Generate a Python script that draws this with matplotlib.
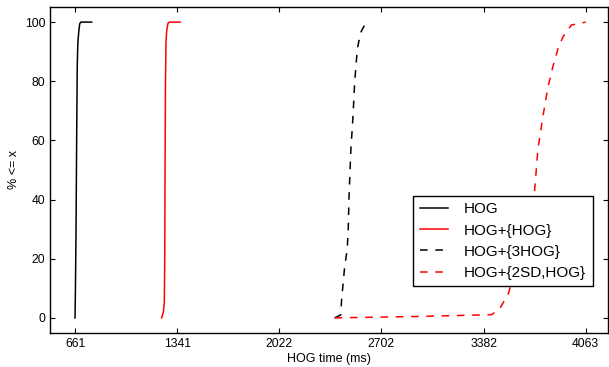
"""Cumulative distribution of HOG timing for four feature configurations."""

import matplotlib
matplotlib.use("Agg")
import matplotlib.pyplot as plt
import numpy as np

plt.rcParams['font.family'] = ['Liberation Sans', 'DejaVu Sans']

# CDF samples (time in ms, percent <= x)
hog_x = [661.3, 664, 668, 672, 676, 680, 686, 692, 699, 772]
hog_y = [0, 10, 30, 60, 85, 93, 96.6, 99.3, 100, 100]

hog_hog_x = [1238, 1250, 1256, 1259, 1261, 1264, 1267, 1272, 1280, 1290, 1362]
hog_hog_y = [0, 2, 5, 20, 50, 80, 93, 97, 99.5, 100, 100]

hog_3hog_x = [2391, 2431, 2437, 2457, 2474, 2481, 2486, 2499, 2513, 2524,
              2542, 2564, 2584, 2608]
hog_3hog_y = [0, 1, 6, 17, 23, 29, 40, 57, 68, 79.5, 91, 96.4, 98.4, 100]

hog_2sd_x = [2391, 2957, 3438, 3494, 3550, 3584, 3628, 3723, 3745, 3778,
             3812, 3845, 3879, 3912, 3968, 4063.4]
hog_2sd_y = [0, 0.5, 1.1, 3.4, 8.4, 15, 26, 43, 57, 68, 78, 85, 91, 95, 99, 100]

labels = ['HOG', 'HOG+{HOG}', 'HOG+{3HOG}', 'HOG+{2SD,HOG}']

fig = plt.figure(figsize=(6.09, 3.67), dpi=100)
ax = fig.add_axes([0.0821, 0.0935, 0.917, 0.8866])

ax.plot(hog_x, hog_y, color='black', linewidth=1.1, label=labels[0])
ax.plot(hog_hog_x, hog_hog_y, color='red', linewidth=1.1, label=labels[1])
ax.plot(hog_3hog_x, hog_3hog_y, color='black', linewidth=1.1,
        linestyle='--', dashes=(5, 5), label=labels[2])
ax.plot(hog_2sd_x, hog_2sd_y, color='red', linewidth=1.1,
        linestyle='--', dashes=(5, 5), label=labels[3])

# ticks spread evenly between the fastest and slowest sample
xmin = min(hog_x)
xmax = max(hog_2sd_x)
ticks = np.linspace(xmin, xmax, 6)
ax.set_xticks(ticks)
ax.set_xticklabels([str(int(t)) for t in ticks])
ax.set_xlim(494.5, 4215)
ax.set_ylim(-5, 105)
ax.set_yticks([0, 20, 40, 60, 80, 100])

ax.tick_params(direction='in', top=True, right=True, length=3.5, width=0.8,
               labelsize=8.75, pad=3.5)
for s in ax.spines.values():
    s.set_linewidth(1.0)

ax.set_xlabel('HOG time (ms)', fontsize=9, labelpad=2.5)
ax.set_ylabel('% <= x', fontsize=9, labelpad=3.5)

leg = ax.legend(loc='upper left', bbox_to_anchor=(0.6505, 0.42),
                borderaxespad=0, fancybox=False, framealpha=1,
                edgecolor='black', fontsize=11, handlelength=1.85,
                handletextpad=1.05, labelspacing=0.47, borderpad=0.42)
leg.get_frame().set_linewidth(1.0)

plt.savefig('out.png', dpi=100)
plt.close()
